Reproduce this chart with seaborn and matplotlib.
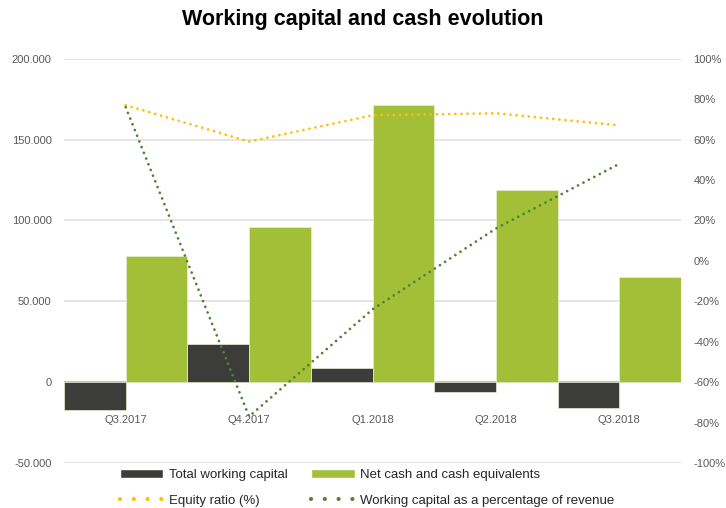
import numpy as np
import pandas as pd
import matplotlib
matplotlib.use("Agg")
import matplotlib.pyplot as plt
from matplotlib.ticker import FuncFormatter
from matplotlib.patches import Patch
from matplotlib.lines import Line2D
import seaborn as sns

# data
quarters = ["Q3.2017", "Q4.2017", "Q1.2018", "Q2.2018", "Q3.2018"]
working_capital = [-17000, 23700, 8850, -6400, -15900]
net_cash = [78300, 95700, 171400, 118800, 65300]
equity_ratio = [77, 59, 72, 73, 67]          # %
wc_pct_revenue = [76, -77, -24, 16, 48]      # %

left_ticks = [-50000, 0, 50000, 100000, 150000, 200000]
right_ticks = list(range(-100, 101, 20))

DARK = "#3c3c3b"
GREEN = "#a2bf37"
YELLOW = "#ffc000"
DKGREEN = "#538135"
GREY_TXT = "#595959"
GRID = "#e3e3e3"

sns.set_theme(style="white")
plt.rcParams['font.family'] = ['Liberation Sans', 'DejaVu Sans']

df = pd.DataFrame({
    "quarter": quarters * 2,
    "value": working_capital + net_cash,
    "series": ["Total working capital"] * len(quarters) + ["Net cash and cash equivalents"] * len(quarters),
})

fig = plt.figure(figsize=(7.26, 5.08), dpi=100)
ax = fig.add_axes([64 / 726, 1 - 463 / 508, (681 - 64) / 726, (463 - 58.7) / 508])

# gridlines first (behind bars)
for t in left_ticks:
    ax.axhline(t, color=GRID, lw=1.3, zorder=0)

sns.barplot(data=df, x="quarter", y="value", hue="series", order=quarters,
            palette=[DARK, GREEN], saturation=1, width=1.0, gap=0, errorbar=None,
            edgecolor="#e8eed2", linewidth=0.5, legend=False, ax=ax, zorder=2)
ax.axhline(0, color="#bfbfbf", lw=1.2, zorder=1)

ax.set_xlim(-0.5, len(quarters) - 0.5)
ax.set_ylim(-50000, 200000)
ax.set_yticks(left_ticks)
ax.yaxis.set_major_formatter(FuncFormatter(lambda v, p: f"{v:,.0f}".replace(",", ".")))
ax.set_xlabel("")
ax.set_ylabel("")
for s in ax.spines.values():
    s.set_visible(False)
ax.spines["bottom"].set_position(("data", 0))
ax.tick_params(axis="x", length=0, pad=24, labelsize=8, labelcolor=GREY_TXT)
ax.tick_params(axis="y", length=0, pad=9, labelsize=8, labelcolor=GREY_TXT)

ax2 = ax.twinx()
xs = np.arange(len(quarters))
sns.lineplot(x=xs, y=equity_ratio, ax=ax2, color=YELLOW, lw=2.0,
             linestyle=(0, (0.01, 2.2)), dash_capstyle="round")
sns.lineplot(x=xs, y=wc_pct_revenue, ax=ax2, color=DKGREEN, lw=2.0,
             linestyle=(0, (0.01, 2.2)), dash_capstyle="round")
ax2.set_ylim(-100, 100)
ax2.set_yticks(right_ticks)
ax2.yaxis.set_major_formatter(FuncFormatter(lambda v, p: f"{v:.0f}%"))
ax2.set_xlim(-0.5, len(quarters) - 0.5)
for s in ax2.spines.values():
    s.set_visible(False)
ax2.tick_params(axis="y", length=0, pad=9, labelsize=8, labelcolor=GREY_TXT)
ax2.grid(False)

fig.suptitle("Working capital and cash evolution", fontsize=15.5, fontweight="bold",
             color="black", y=1 - 20 / 508, va="center")

handles = [
    Patch(facecolor=DARK),
    Line2D([0], [0], color=YELLOW, lw=3, linestyle=(0, (0.01, 3.3)), dash_capstyle="round"),
    Patch(facecolor=GREEN),
    Line2D([0], [0], color=DKGREEN, lw=3, linestyle=(0, (0.01, 3.3)), dash_capstyle="round"),
]
labels = ["Total working capital", "Equity ratio (%)",
          "Net cash and cash equivalents", "Working capital as a percentage of revenue"]
fig.legend(handles, labels, ncol=2, loc="center", bbox_to_anchor=(367 / 726, 1 - 488 / 508),
           frameon=False, fontsize=9.5, handlelength=3.3, handleheight=0.65,
           handletextpad=0.4, columnspacing=1.8, labelspacing=1.0, borderaxespad=0)

fig.savefig("out.png", dpi=100)
